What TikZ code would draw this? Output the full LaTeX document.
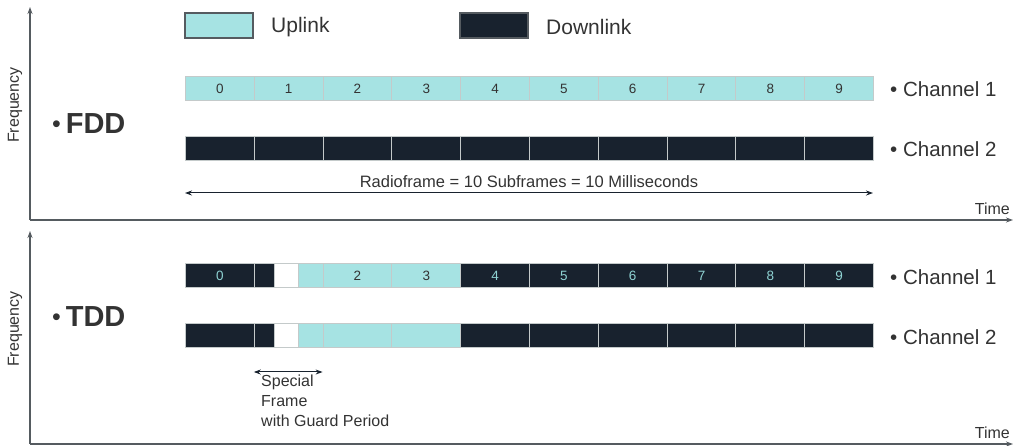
\documentclass[tikz,border=0pt]{standalone}
\usepackage{fontspec}
\setmainfont{Liberation Sans}
\usetikzlibrary{arrows.meta}
\definecolor{upc}{HTML}{A6E3E3}
\definecolor{dnc}{HTML}{18222E}
\definecolor{cellline}{HTML}{C4CACA}
\definecolor{txt}{HTML}{333333}
\definecolor{axisc}{HTML}{555B60}
\definecolor{lbl}{HTML}{8FD3D3}
\begin{document}
\begin{tikzpicture}[x=1pt,y=-1pt,
  cell/.style={draw=cellline,line width=1pt,minimum height=24pt,inner sep=0pt,anchor=west,font=\fontsize{13.5}{13.5}\selectfont},
  upcell/.style={cell,fill=upc,text=txt},
  dncell/.style={cell,fill=dnc,text=lbl},
  gpcell/.style={cell,fill=white},
  legbox/.style={draw=axisc,line width=1.2pt,minimum width=68pt,minimum height=25pt,inner sep=0pt},
  legtxt/.style={text=txt,font=\fontsize{21}{21}\selectfont,anchor=west,inner sep=0pt},
  chtxt/.style={text=txt,font=\fontsize{20.5}{20.5}\selectfont,anchor=west,inner sep=0pt},
  modetxt/.style={text=txt,font=\bfseries\fontsize{29}{29}\selectfont,anchor=west,inner sep=0pt},
  axtxt/.style={text=txt,font=\fontsize{16}{16}\selectfont,inner sep=0pt},
  axis/.style={draw=axisc,line width=1.3pt,-{Stealth[length=7pt,width=5pt]}},
  span/.style={draw=dnc,line width=1pt,{Stealth[length=7pt,width=5pt]}-{Stealth[length=7pt,width=5pt]}}
]
\useasboundingbox (0,0) rectangle (1013,446);

% ---------- axes ----------
\coordinate (o1) at (30,220);
\coordinate (y1) at (30,7);
\coordinate (x1) at (1013,220);
\coordinate (o2) at (30,444);
\coordinate (y2) at (30,231);
\coordinate (x2) at (1013,444);
\draw[axis] (o1) -- (y1);
\draw[axis] (o1) -- (x1);
\draw[axis] (o2) -- (y2);
\draw[axis] (o2) -- (x2);
\node[axtxt,rotate=90] (freq1) at (15,105) {Frequency};
\node[axtxt,rotate=90] (freq2) at (15,329) {Frequency};
\node[axtxt,anchor=east] (time1) at (1010,209) {Time};
\node[axtxt,anchor=east] (time2) at (1010,433) {Time};

% ---------- legend ----------
\node[legbox,fill=upc] (legup) at (219,25.5) {};
\node[legtxt] (legupt) at (271,27) {Uplink};
\node[legbox,fill=dnc] (legdn) at (494,25.5) {};
\node[legtxt] (legdnt) at (546,27) {Downlink};

% ---------- FDD ----------
\node[modetxt] (fdd) at (52,124) {{\mdseries\fontsize{25}{25}\selectfont\raisebox{1pt}{•}}\,FDD};
\foreach \i in {0,...,9}{
  \node[upcell,minimum width=68.8pt] (fu\i) at ({185+68.8*\i},89) {\i};
  \node[dncell,minimum width=68.8pt] (fd\i) at ({185+68.8*\i},148.5) {};
}
\node[chtxt] (fch1) at (890,89) {•\ Channel 1};
\node[chtxt] (fch2) at (890,149) {•\ Channel 2};
\coordinate (rfl) at (185,193);
\coordinate (rfr) at (873,193);
\draw[span] (rfl) -- (rfr);
\node[text=txt,font=\fontsize{16.5}{16.5}\selectfont,inner sep=0pt] (rf) at (529,182) {Radioframe = 10 Subframes = 10 Milliseconds};

% ---------- TDD ----------
\node[modetxt] (tdd) at (52,317) {{\mdseries\fontsize{25}{25}\selectfont\raisebox{1pt}{•}}\,TDD};
\foreach \row/\y/\lab in {a/276/1,b/336/0}{
  \node[dncell,minimum width=68.8pt] (t\row0) at (185,\y) {\ifnum\lab=1 0\fi};
  \node[dncell,minimum width=20.2pt] (t\row dw) at (253.8,\y) {};
  \node[gpcell,minimum width=24pt] (t\row gp) at (274,\y) {};
  \node[upcell,minimum width=24.6pt] (t\row up) at (298,\y) {};
  \foreach \i in {2,3}{
    \node[upcell,minimum width=68.8pt] (t\row\i) at ({185+68.8*\i},\y) {\ifnum\lab=1 \i\fi};
  }
  \foreach \i in {4,...,9}{
    \node[dncell,minimum width=68.8pt] (t\row\i) at ({185+68.8*\i},\y) {\ifnum\lab=1 \i\fi};
  }
}
\node[chtxt] (tch1) at (890,277) {•\ Channel 1};
\node[chtxt] (tch2) at (890,337) {•\ Channel 2};
\coordinate (spl) at (253.8,372);
\coordinate (spr) at (322.6,372);
\draw[span] (spl) -- (spr);
\node[text=txt,font=\fontsize{16}{20}\selectfont,align=left,anchor=north west,inner sep=0pt] (spt) at (261,375) {Special\\Frame\\with Guard Period};
\end{tikzpicture}
\end{document}
